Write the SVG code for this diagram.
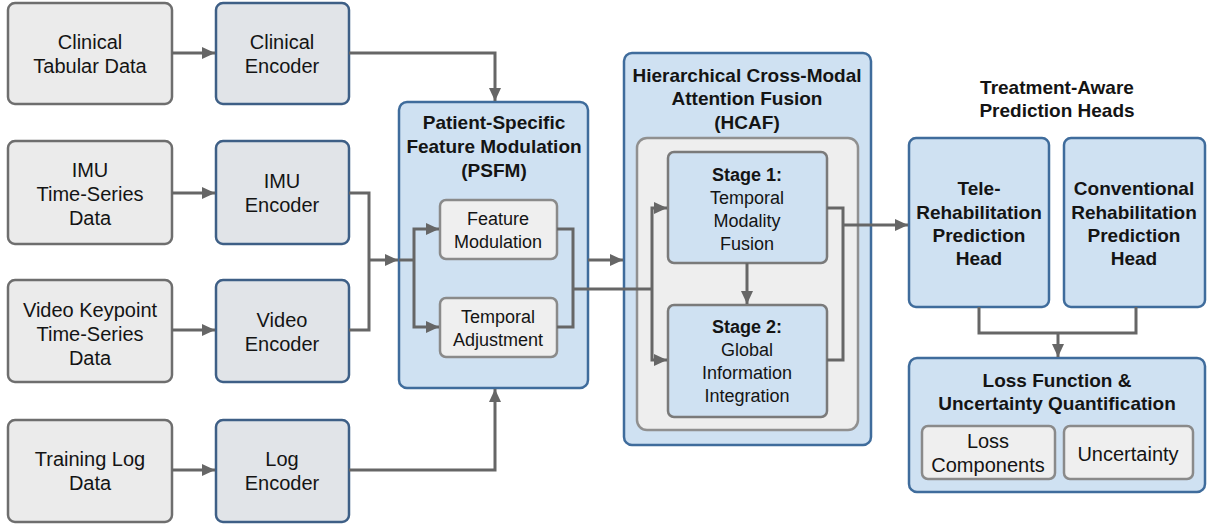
<svg xmlns="http://www.w3.org/2000/svg" width="1208" height="525" viewBox="0 0 1208 525">
<defs>
<marker id="arr" markerUnits="userSpaceOnUse" markerWidth="14" markerHeight="14" refX="13" refY="7" orient="auto">
<path d="M0,1 L13,7 L0,13 z" fill="#666"/>
</marker>
<style>
text{font-family:"Liberation Sans",Arial,sans-serif;fill:#141414;text-anchor:middle;dominant-baseline:central}
.r{font-size:20px}
.s{font-size:18px}
.b{font-size:19px;font-weight:bold}
.data{fill:#ebebeb;stroke:#6e6e6e;stroke-width:2.5}
.enc{fill:#e1e4e8;stroke:#3e5f86;stroke-width:2.5}
.blue{fill:#cfe1f2;stroke:#3f6c9c;stroke-width:2.5}
.sub{fill:#efefef;stroke:#8a8a8a;stroke-width:2.5}
.stage{fill:#cfe1f2;stroke:#7a7a7a;stroke-width:2.5}
.inner{fill:#eeeeee;stroke:#909090;stroke-width:2.5}
.c{fill:none;stroke:#666;stroke-width:3}
</style>
</defs>
<rect width="1208" height="525" fill="#ffffff"/>

<g id="clinical-data"><rect class="data" x="8" y="3" width="164" height="101" rx="7"/><text class="r" x="90" y="42">Clinical</text><text class="r" x="90" y="66">Tabular Data</text></g>
<g id="imu-data"><rect class="data" x="8" y="141" width="164" height="103" rx="7"/><text class="r" x="90" y="170">IMU</text><text class="r" x="90" y="194">Time-Series</text><text class="r" x="90" y="218">Data</text></g>
<g id="video-data"><rect class="data" x="8" y="280" width="164" height="102" rx="7"/><text class="r" x="90" y="310">Video Keypoint</text><text class="r" x="90" y="334">Time-Series</text><text class="r" x="90" y="358">Data</text></g>
<g id="log-data"><rect class="data" x="8" y="420" width="164" height="102" rx="7"/><text class="r" x="90" y="459">Training Log</text><text class="r" x="90" y="483">Data</text></g>

<g id="clinical-enc"><rect class="enc" x="216" y="3" width="133" height="101" rx="7"/><text class="r" x="282" y="42">Clinical</text><text class="r" x="282" y="66">Encoder</text></g>
<g id="imu-enc"><rect class="enc" x="216" y="141" width="133" height="103" rx="7"/><text class="r" x="282" y="181">IMU</text><text class="r" x="282" y="205">Encoder</text></g>
<g id="video-enc"><rect class="enc" x="216" y="280" width="133" height="102" rx="7"/><text class="r" x="282" y="320">Video</text><text class="r" x="282" y="344">Encoder</text></g>
<g id="log-enc"><rect class="enc" x="216" y="420" width="133" height="102" rx="7"/><text class="r" x="282" y="459">Log</text><text class="r" x="282" y="483">Encoder</text></g>

<g id="psfm"><rect class="blue" x="399" y="102" width="189" height="286" rx="8"/><text class="b" x="494" y="122">Patient-Specific</text><text class="b" x="494" y="146">Feature Modulation</text><text class="b" x="494" y="170">(PSFM)</text></g>
<g id="feature-mod"><rect class="sub" x="440" y="200" width="117" height="59" rx="6"/><text class="s" x="498" y="219">Feature</text><text class="s" x="498" y="242">Modulation</text></g>
<g id="temporal-adj"><rect class="sub" x="440" y="298" width="117" height="59" rx="6"/><text class="s" x="498" y="317">Temporal</text><text class="s" x="498" y="340">Adjustment</text></g>

<g id="hcaf"><rect class="blue" x="624" y="53" width="247" height="392" rx="8"/><text class="b" x="747" y="75">Hierarchical Cross-Modal</text><text class="b" x="747" y="98">Attention Fusion</text><text class="b" x="747" y="122">(HCAF)</text>
<rect class="inner" x="637" y="138" width="221" height="292" rx="10"/></g>
<g id="stage1"><rect class="stage" x="668" y="152" width="159" height="111" rx="6"/><text class="s" x="747" y="175" font-weight="bold">Stage 1:</text><text class="s" x="747" y="198">Temporal</text><text class="s" x="747" y="221">Modality</text><text class="s" x="747" y="244">Fusion</text></g>
<g id="stage2"><rect class="stage" x="668" y="305" width="159" height="112" rx="6"/><text class="s" x="747" y="327" font-weight="bold">Stage 2:</text><text class="s" x="747" y="350">Global</text><text class="s" x="747" y="373">Information</text><text class="s" x="747" y="396">Integration</text></g>

<g id="heads-title"><text class="b" x="1057" y="87">Treatment-Aware</text><text class="b" x="1057" y="110">Prediction Heads</text></g>
<g id="tele-head"><rect class="blue" x="909" y="138" width="140" height="169" rx="7"/><text class="b" x="979" y="188">Tele-</text><text class="b" x="979" y="212">Rehabilitation</text><text class="b" x="979" y="235">Prediction</text><text class="b" x="979" y="258">Head</text></g>
<g id="conv-head"><rect class="blue" x="1064" y="138" width="141" height="169" rx="7"/><text class="b" x="1134" y="188">Conventional</text><text class="b" x="1134" y="212">Rehabilitation</text><text class="b" x="1134" y="235">Prediction</text><text class="b" x="1134" y="258">Head</text></g>

<g id="loss"><rect class="blue" x="909" y="358" width="296" height="134" rx="8"/><text class="b" x="1057" y="380">Loss Function &amp;</text><text class="b" x="1057" y="403">Uncertainty Quantification</text></g>
<g id="loss-components"><rect class="sub" x="922" y="426" width="133" height="53" rx="6"/><text class="r" x="988" y="441">Loss</text><text class="r" x="988" y="465">Components</text></g>
<g id="uncertainty"><rect class="sub" x="1064" y="426" width="129" height="53" rx="6"/><text class="r" x="1128" y="454">Uncertainty</text></g>

<g id="connectors">
<path class="c" d="M172,53 H215" marker-end="url(#arr)"/>
<path class="c" d="M172,193 H215" marker-end="url(#arr)"/>
<path class="c" d="M172,330 H215" marker-end="url(#arr)"/>
<path class="c" d="M172,470 H215" marker-end="url(#arr)"/>
<path class="c" d="M349,53 H495 V101" marker-end="url(#arr)"/>
<path class="c" d="M349,470 H495 V389" marker-end="url(#arr)"/>
<path class="c" d="M349,193 H369 V330 H349"/>
<path class="c" d="M369,260 H398" marker-end="url(#arr)"/>
<path class="c" d="M399,260 H414"/>
<path class="c" d="M414,260 V229 H439" marker-end="url(#arr)"/>
<path class="c" d="M414,260 V327 H439" marker-end="url(#arr)"/>
<path class="c" d="M557,229 H573 V327 H557"/>
<path class="c" d="M573,289 H652"/>
<path class="c" d="M652,289 V208 H667" marker-end="url(#arr)"/>
<path class="c" d="M652,289 V360 H667" marker-end="url(#arr)"/>
<path class="c" d="M588,260 H623" marker-end="url(#arr)"/>
<path class="c" d="M747,263 V304" marker-end="url(#arr)"/>
<path class="c" d="M827,208 H843 V360 H827"/>
<path class="c" d="M843,225 H908" marker-end="url(#arr)"/>
<path class="c" d="M979,307 V333 H1136 V307"/>
<path class="c" d="M1058,333 V357" marker-end="url(#arr)"/>
</g>
</svg>
